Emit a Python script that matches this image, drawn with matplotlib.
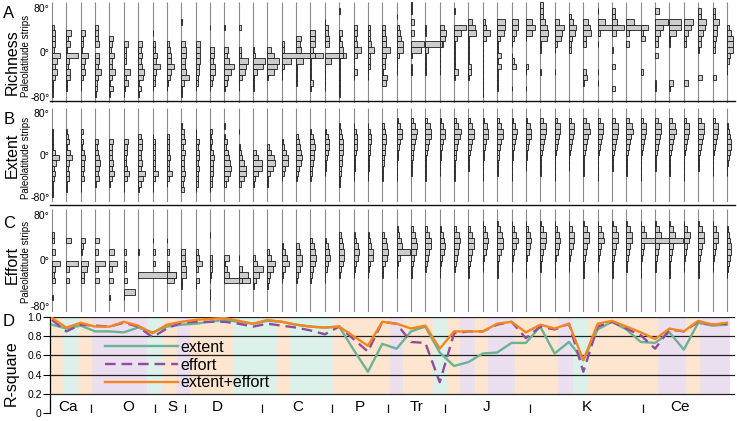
import matplotlib
matplotlib.use("Agg")
import matplotlib.pyplot as plt
import numpy as np

plt.rcParams['font.family'] = ['Liberation Sans', 'DejaVu Sans']

# ---------------- data ----------------
# latitude bins: bin b covers (80-10b .. 90-10b) degrees, b = 0..17
# each column (geological stage) -> {bin: relative bar length}
richness = [
    {4:2,5:3,6:3,7:3,8:2,9:8,10:5,11:3,12:5,13:3,14:1,15:1,16:1},
    {5:5,6:2,7:4,8:1,9:12,10:3,11:2,12:4,13:4,14:1,15:1},
    {5:5,6:3,7:3,8:2,9:8,10:5,11:4,12:5,13:3,14:1,15:1},
    {4:3,5:3,6:3,7:4,9:4,10:4,11:3,12:6,13:3,14:2,15:2,16:1},
    {6:4,7:3,8:2,9:5,10:3,11:3,12:6,13:3,14:1,15:4,16:1},
    {7:5,8:3,9:3,10:3,11:1,12:7,13:3,14:5,15:2,16:1},
    {7:4,8:3,9:4,10:3,11:4,12:6,13:5,14:1,15:3,16:1},
    {5:1,7:3,8:3,9:5,10:4,11:8,12:4,13:3,14:3,15:1},
    {7:3,8:4,9:5,10:5,11:8,12:5,13:4,14:2,15:1},
    {3:1,7:4,8:5,9:5,10:4,11:4,12:5,13:8,14:3,15:1,16:1},
    {7:5,8:5,9:5,10:5,11:4,12:4,13:3,14:3,15:1},
    {4:1,8:5,9:5,10:4,11:6,12:6,13:4,14:3,15:1},
    {4:1,8:4,9:3,10:5,11:10,12:7,13:4,14:3,15:1},
    {4:3,8:3,9:3,10:10,11:8,12:7,13:4,14:1,15:1},
    {8:1,9:2,10:12,11:10,12:4,13:1,14:1,15:1},
    {8:4,9:7,10:12,11:10,12:7,13:1},
    {7:3,8:3,9:42,10:10,11:3,12:1,13:1},
    {6:5,7:4,8:5,10:7,11:1,12:1,13:1,14:1},
    {5:5,6:5,7:5,8:3,9:5,10:1,11:1,12:1,13:1,14:3,15:1},
    {3:1,4:4,5:4,6:5,7:5,9:22,10:7,11:1,12:1,13:1,14:1,15:1},
    {1:1,5:3,6:1,7:3,8:4,9:4,10:1,11:1,12:1,13:1,14:1,15:1,16:1},
    {4:4,5:4,6:3,7:4,8:8,9:4,10:1,11:1,12:4,13:1},
    {4:3,5:3,6:3,7:4,8:7,9:3,10:3,11:3,12:1,13:1},
    {4:3,5:3,6:4,7:4,8:8,9:4,10:3,11:3,12:1,13:5,14:4},
    {2:1,4:3,5:4,6:5,7:7,8:7,9:3,10:1,11:1,12:1},
    {0:1,1:1,3:3,5:3,7:13,8:10,9:1,11:1,12:1},
    {4:1,5:1,7:18,8:3,9:1,10:1,11:1,12:1},
    {4:5,5:7,6:6,7:3,8:1,9:1,10:1,11:1,12:1},
    {1:1,4:12,5:7,6:3,7:1,8:1,9:1,10:1,11:1,12:4,13:1},
    {3:4,4:7,5:8,6:1,7:1,8:1,9:1,10:1,11:3,12:3,13:1},
    {3:3,4:4,5:8,6:4,7:1,8:1,9:1,10:1,11:1,12:1,13:1,14:1,15:1,16:1},
    {3:8,4:8,5:7,6:3,7:1,8:1,9:4,10:1,11:4,12:1,13:1,14:1,15:1},
    {3:7,4:7,5:5,6:3,7:1,9:1,10:3,11:5,15:1},
    {3:7,4:10,5:7,6:1,11:3,12:1,15:1},
    {0:3,1:3,2:3,3:5,4:7,5:8,6:7,7:1,8:1,12:1},
    {3:5,4:10,5:8,6:7,7:3,8:1,12:1},
    {2:3,3:5,4:8,5:7,6:4,7:3,8:3},
    {3:5,4:7,5:8,6:3,7:3,12:3,13:4,14:1},
    {1:1,3:8,4:20,5:3,7:1,12:1,14:1},
    {1:3,2:3,3:5,4:12,5:4,8:1,11:3,15:3},
    {3:8,4:20,5:3,7:3},
    {4:8,5:3,6:5,12:3},
    {1:4,3:13,4:8,5:5,6:3,7:3,9:3,14:1,15:1},
    {3:12,4:12,5:7,6:1,7:1,14:4,15:1},
    {3:10,4:8,5:5,6:3,7:3,14:5},
    {1:3,2:3,3:8,4:7,5:5,6:3,7:3,8:1,13:4},
    {1:3,2:3,3:7,4:5,5:5,6:4,7:3,8:3,13:4},
    {4:3,5:5,6:7,7:7,8:7,9:4,10:3,11:1,12:1},
]

extent_hist = [
    {4:1,5:1,6:1,7:1,8:3,9:7,10:4,11:2,12:3,13:2,14:1,15:1,16:1},
    {4:1,5:2,6:3,7:1,8:4,9:6,10:3,11:2,12:3,13:3,14:1,15:1},
    {4:3,5:1,6:3,7:2,8:4,9:5,10:4,11:4,12:3,13:4,14:1,15:1},
    {6:3,7:2,8:3,9:4,10:5,11:4,12:3,13:4,14:1},
    {6:4,7:3,8:3,9:3,10:4,11:3,12:5,13:3,14:1},
    {6:5,7:4,8:4,9:3,10:3,11:4,12:6,13:4,14:1,15:1},
    {5:3,6:4,7:4,8:3,9:3,10:4,11:3,12:7,13:5,14:3,15:1},
    {5:1,6:3,7:3,8:3,9:3,10:3,11:3,12:6,13:3,14:1,15:1},
    {5:3,6:3,7:3,8:3,9:4,10:3,11:3,12:6,13:3,14:1},
    {3:1,4:3,5:3,6:4,7:2,8:4,9:3,10:3,11:3,12:4,13:3,14:2,15:3},
    {4:1,5:1,6:4,7:3,8:4,9:4,10:3,11:4,12:3,13:3,14:3,15:1},
    {4:3,5:2,6:3,7:2,8:4,9:5,10:4,11:4,12:4,13:3,14:3,15:1},
    {3:1,5:1,6:3,7:2,8:4,9:5,10:6,11:7,12:6,13:4,14:2},
    {4:1,7:2,8:3,9:4,10:6,11:8,12:8,13:6,14:3},
    {8:3,9:5,10:9,11:9,12:5,13:2,14:1},
    {7:2,8:4,9:7,10:8,11:6,12:3,13:1,14:1},
    {6:2,7:3,8:5,9:7,10:7,11:4,12:3,13:1},
    {5:2,6:3,7:4,8:5,9:6,10:5,11:3,12:2,13:1},
    {4:1,5:3,6:4,7:5,8:4,9:4,10:3,11:2,12:2,13:1},
    {4:2,5:4,6:5,7:5,8:4,9:3,10:2,11:2,12:1},
    {3:1,4:2,5:3,6:4,7:4,8:4,9:3,10:3,11:2,12:2,13:1,14:1},
    {3:1,4:3,5:4,6:4,7:4,8:3,9:2,10:2,11:2,12:1,13:1},
    {3:1,4:3,5:4,6:4,7:3,8:3,9:2,10:2,11:2,12:1,13:1},
    {3:2,4:3,5:4,6:4,7:3,8:3,9:2,10:2,11:1,12:1,13:1},
    {2:2,3:4,4:6,5:6,6:4,7:3,8:2,9:2,10:1,11:1,12:1,13:1},
    {2:2,3:4,4:6,5:5,6:4,7:3,8:2,9:2,10:1,11:1,12:1},
    {2:2,3:5,4:6,5:6,6:4,7:3,8:2,9:1,10:1,11:1,12:1,13:1},
    {2:2,3:4,4:6,5:6,6:4,7:3,8:2,9:2,10:1,11:1,12:1},
    {2:2,3:4,4:7,5:6,6:4,7:3,8:2,9:2,10:1,11:1,12:1,13:1},
    {2:2,3:4,4:6,5:6,6:4,7:3,8:2,9:1,10:1,11:1},
    {2:2,3:5,4:6,5:6,6:4,7:3,8:2,9:2,10:1,11:1,12:1,13:1},
    {2:2,3:4,4:6,5:6,6:4,7:3,8:2,9:2,10:1,11:1,12:1},
    {2:2,3:4,4:6,5:5,6:4,7:3,8:2,9:2,10:1,11:1,12:1,13:1},
    {2:2,3:5,4:6,5:6,6:4,7:3,8:2,9:2,10:1,11:1},
    {2:3,3:6,4:6,5:5,6:4,7:3,8:2,9:1,10:1,11:1,12:1},
    {2:3,3:6,4:6,5:5,6:4,7:3,8:2,9:1,10:1,11:1,12:1,13:1},
    {2:3,3:6,4:6,5:5,6:4,7:3,8:2,9:1,10:1,11:1},
    {2:3,3:6,4:7,5:5,6:4,7:3,8:2,9:1,10:1,11:1,12:1},
    {2:3,3:6,4:6,5:5,6:4,7:3,8:2,9:1,10:1,11:1,12:1,13:1},
    {2:3,3:6,4:6,5:5,6:4,7:3,8:2,9:1,10:1,11:1},
    {2:3,3:6,4:7,5:5,6:4,7:3,8:2,9:1,10:1,11:1,12:1},
    {2:3,3:6,4:6,5:5,6:4,7:3,8:2,9:1,10:1,11:1,12:1,13:1},
    {2:3,3:6,4:6,5:5,6:4,7:3,8:2,9:1,10:1,11:1},
    {2:3,3:6,4:7,5:5,6:4,7:3,8:2,9:1,10:1,11:1,12:1},
    {2:3,3:6,4:6,5:5,6:4,7:3,8:2,9:1,10:1,11:1,12:1,13:1},
    {2:3,3:6,4:6,5:5,6:4,7:3,8:2,9:1,10:1,11:1},
    {2:3,3:6,4:6,5:5,6:4,7:3,8:2,9:1,10:1,11:1,12:1},
    {3:2,4:3,5:4,6:5,7:5,8:4,9:3,10:2,11:1,12:1},
]

effort_hist = [
    {4:2,5:2,7:3,9:8,10:3,11:2,12:3,15:1},
    {5:5,9:12,10:3,12:3},
    {5:5,6:3,7:2,9:8,10:7,11:4,12:4},
    {5:4,7:3,9:10,10:3,12:4},
    {7:5,9:8,10:3,12:4,15:1},
    {7:3,9:3,10:3,12:4,14:12,15:1},
    {7:1,11:38},
    {5:1,7:3,9:3},
    {5:1,7:3,9:3,10:3,11:10,12:8},
    {7:4,8:4,9:4,10:5,11:5,12:1,13:1},
    {7:3,8:4,9:7,10:3,12:4,13:1},
    {4:1,8:3,9:3,10:3,11:2,12:1,14:1,15:1},
    {8:5,9:1,10:3,11:5,12:26},
    {8:1,10:4,11:10,12:4},
    {8:2,9:4,10:10,11:6,12:3,13:1},
    {7:2,8:4,9:8,10:6,11:3,12:2,13:1},
    {6:2,7:4,8:6,9:8,10:4,11:2,12:1},
    {6:3,7:4,8:6,9:6,10:4,11:2,12:1},
    {5:2,6:4,7:5,8:6,9:5,10:3,11:2,12:1},
    {5:2,6:4,7:5,8:6,9:4,10:3,11:1,12:1},
    {4:2,5:3,6:4,7:5,8:5,9:4,10:2,11:1},
    {4:2,5:3,6:5,7:6,8:5,9:3,10:2,11:1},
    {4:2,5:3,6:4,7:6,8:6,9:3,10:2,11:1},
    {4:2,5:4,6:5,7:6,8:5,9:3,10:1,11:1},
    {3:2,4:3,5:5,6:6,7:14,8:4,9:2,10:1,11:1},
    {3:2,4:4,5:5,6:6,7:5,8:3,9:2,10:1,11:1},
    {3:2,4:4,5:6,6:6,7:4,8:3,9:2,10:1},
    {3:2,4:4,5:5,6:6,7:5,8:3,9:2,10:1,11:1},
    {3:2,4:5,5:6,6:5,7:4,8:3,9:2,10:1},
    {3:2,4:4,5:6,6:6,7:4,8:3,9:2,10:1,11:1},
    {2:1,3:3,4:5,5:6,6:5,7:4,8:2,9:1,10:1},
    {2:1,3:3,4:5,5:6,6:6,7:4,8:2,9:1,10:1,11:1},
    {2:1,3:3,4:5,5:7,6:5,7:3,8:2,9:1,10:1},
    {2:1,3:3,4:5,5:6,6:5,7:4,8:2,9:1,10:1,11:1},
    {2:1,3:3,4:6,5:6,6:5,7:3,8:2,9:1,10:1},
    {2:1,3:3,4:5,5:6,6:5,7:4,8:2,9:1,10:1,11:1},
    {2:1,3:4,4:6,5:6,6:5,7:3,8:2,9:1,10:1},
    {2:1,3:4,4:6,5:6,6:4,7:3,8:2,9:1,10:1,11:1},
    {2:1,3:4,4:6,5:7,6:4,7:3,8:2,9:1,10:1},
    {2:1,3:4,4:6,5:6,6:4,7:3,8:2,9:1,10:1,11:1},
    {2:1,3:4,4:6,5:6,6:4,7:3,8:2,9:1,10:1},
    {2:1,3:4,4:6,5:20,6:4,7:3,8:2,9:1,10:1,11:1},
    {2:1,3:4,4:6,5:20,6:4,7:3,8:2,9:1,10:1},
    {2:1,3:4,4:6,5:14,6:4,7:3,8:2,9:1,10:1,11:1},
    {2:1,3:4,4:7,5:6,6:4,7:3,8:2,9:1,10:1},
    {2:1,3:4,4:6,5:6,6:4,7:3,8:2,9:1,10:1,11:1},
    {2:1,3:4,4:6,5:6,6:4,7:3,8:2,9:1,10:1},
    {3:2,4:3,5:4,6:5,7:5,8:4,9:3,10:2,11:1},
]

# panel D: R-square per stage
extent_r2 = [0.92,0.88,0.91,0.85,0.85,0.84,0.89,0.84,0.90,0.92,0.93,0.95,0.97,0.95,
             0.93,0.96,0.95,0.92,0.90,0.89,0.90,0.66,0.43,0.72,0.67,0.85,0.90,0.63,
             0.49,0.53,0.62,0.63,0.73,0.73,0.90,0.62,0.74,0.55,0.87,0.95,0.87,0.74,
             0.73,0.84,0.66,0.94,0.91,0.92]
effort_r2 = [0.97,0.85,0.92,0.91,0.90,0.94,0.90,0.79,0.88,0.94,0.95,0.95,0.95,0.93,
             0.90,0.93,0.91,0.89,0.86,0.82,0.90,0.77,0.64,0.95,0.93,0.74,0.73,0.32,
             0.83,0.85,0.85,0.92,0.95,0.78,0.90,0.87,0.93,0.43,0.90,0.95,0.88,0.81,
             0.67,0.87,0.85,0.95,0.92,0.93]
both_r2 = [0.99,0.89,0.94,0.90,0.90,0.95,0.91,0.83,0.92,0.95,0.97,0.98,0.99,0.96,
           0.93,0.97,0.95,0.92,0.90,0.89,0.90,0.80,0.70,0.95,0.93,0.88,0.91,0.67,
           0.85,0.85,0.85,0.93,0.95,0.84,0.92,0.88,0.93,0.55,0.93,0.96,0.90,0.84,
           0.77,0.88,0.85,0.96,0.92,0.94]

# background epoch bands (in stage-index units)
band_start = [-0.14,0.77,1.81,2.79,6.62,7.73,8.70,9.61,12.6,15.67,16.57,19.57,23.54,
              24.44,26.53,27.51,28.41,29.46,30.36,32.24,35.24,36.28,37.33,42.2,44.15,45.13]
band_end = band_start[1:] + [47.21]
band_kind = ['o','t','o','p','t','o','p','o','t','o','t','o','p',
             'o','t','o','p','o','p','o','p','t','o','p','o','p']

periods = ['Ca','O','S','D','C','P','Tr','J','K','Ce']
period_pos = [1.11,5.29,8.36,11.49,17.13,21.45,25.42,30.29,37.26,43.73]
period_bounds = [2.72,7.17,9.26,14.62,19.50,23.40,27.37,33.29,41.16]

# ---------------- layout helpers ----------------
W, H = 737, 421
fig = plt.figure(figsize=(W/100, H/100), dpi=100)
S = 14.36      # px per stage
X0 = 52        # px of first stage

def add_ax(x0, y0, x1, y1):
    return fig.add_axes([x0/W, 1 - y1/H, (x1 - x0)/W, (y1 - y0)/H])

def xlim_px(a, b):
    return ((a - X0)/S, (b - X0)/S)

def hist_panel(top, bottom, cols):
    ax = add_ax(51, top, 737, bottom)
    n = len(cols)
    ax.vlines(np.arange(n), -90, 90, color='#8a8a8a', lw=0.8, zorder=1)
    for i, col in enumerate(cols):
        bins = sorted(col)
        lats = [85 - 10*b for b in bins]
        lens = [max(col[b] - 0.5, 0.4)/S for b in bins]
        ax.barh(lats, lens, left=i, height=10, color='#cccccc',
                edgecolor='#1a1a1a', linewidth=0.6, zorder=2)
    ax.set_xlim(*xlim_px(51, 737))
    ax.set_ylim(-90, 90)
    ax.set_yticks([80, 0, -80])
    ax.set_yticklabels(['80°', '0°', '-80°'], fontsize=7.5)
    ax.tick_params(axis='y', length=0, pad=1)
    ax.set_xticks([])
    for s in ax.spines.values():
        s.set_visible(False)
    ax.patch.set_alpha(0)
    return ax

hist_panel(2.4, 102.6, richness)
hist_panel(107.7, 202.3, extent_hist)
hist_panel(209.3, 311.7, effort_hist)

for yy in (101, 205):
    fig.add_artist(plt.Line2D([50/W, 735/W], [1 - yy/H]*2, transform=fig.transFigure,
                              color='#111111', lw=1.0))

# side labels
for letter, y in (('A', 14), ('B', 119), ('C', 224), ('D', 322)):
    fig.text(9/W, 1 - y/H, letter, fontsize=12, ha='center', va='center')
for name, y in (('Richness', 62), ('Extent', 155), ('Effort', 265)):
    fig.text(12/W, 1 - y/H, name, fontsize=11.5, rotation=90, ha='center', va='center')
for y in (56, 158, 262):
    fig.text(26/W, 1 - y/H, 'Paleolatitude strips', fontsize=7, rotation=90,
             ha='center', va='center')
fig.text(11/W, 1 - 373/H, 'R-square', fontsize=11.5, rotation=90, ha='center', va='center')

# ---------------- panel D ----------------
axd = add_ax(50, 317, 735, 413)
xl = xlim_px(50, 735)
colors = {'o': '#fde5d0', 't': '#dcf1ea', 'p': '#ebdff0'}
axd.bar(band_start, 0.8, width=np.array(band_end) - np.array(band_start), bottom=0.2,
        align='edge', color=[colors[k] for k in band_kind], linewidth=0, zorder=0)
axd.hlines([0.2, 0.4, 0.6, 0.8, 1.0], xl[0], xl[1], color='#222222', lw=0.9, zorder=1)
x = np.arange(len(both_r2))
axd.plot(x, extent_r2, color='#6cb294', lw=1.7, label='extent', zorder=3)
axd.plot(x, effort_r2, color='#8e4e9c', lw=1.7, dashes=(4.5, 2.5), label='effort', zorder=3)
axd.plot(x, both_r2, color='#f5861f', lw=1.7, label='extent+effort', zorder=4)
axd.vlines(period_bounds, 0, 0.09, color='#111111', lw=0.9)
for name, p in zip(periods, period_pos):
    axd.text(p, 0.058, name, fontsize=11, ha='center', va='center')
axd.set_xlim(*xl)
axd.set_ylim(0, 1)
axd.set_yticks([0, 0.2, 0.4, 0.6, 0.8, 1.0])
axd.set_yticklabels(['0', '0.2', '0.4', '0.6', '0.8', '1.0'], fontsize=7.5)
axd.tick_params(axis='y', length=5, width=0.8, pad=1)
axd.set_xticks([])
for k in ('top', 'right', 'bottom'):
    axd.spines[k].set_visible(False)
axd.spines['left'].set_linewidth(0.9)
leg = axd.legend(loc='upper left', bbox_to_anchor=((105-50)/685, (413-340)/96),
                 frameon=False, fontsize=11.5, handlelength=4.6, handletextpad=0.1,
                 labelspacing=0.17, borderpad=0, borderaxespad=0)

fig.savefig('out.png', dpi=100)
